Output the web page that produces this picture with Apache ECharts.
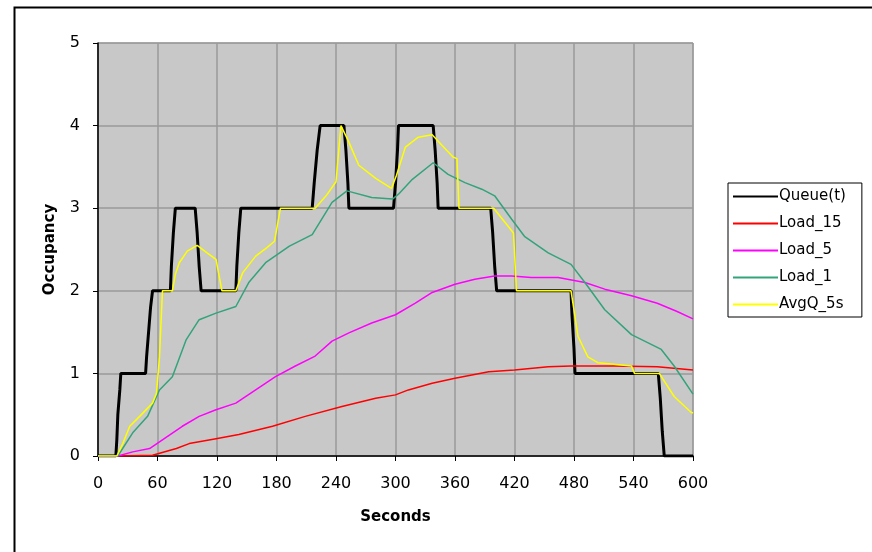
<!DOCTYPE html>
<html>
<head>
<meta charset="utf-8">
<script src="https://cdn.jsdelivr.net/npm/echarts@6/dist/echarts.min.js"></script>
<style>
html,body{margin:0;padding:0;background:#fff;}
#c{width:872px;height:552px;}
</style>
</head>
<body>
<div id="c"></div>
<script>
var seriesNames = ['Queue(t)', 'Load_15', 'Load_5', 'Load_1', 'AvgQ_5s'];
var xTicks = [0, 60, 120, 180, 240, 300, 360, 420, 480, 540, 600];
var yTicks = [0, 1, 2, 3, 4, 5];

var queueT = [0,18,19,20,22,23,48,49,51,53,55,73,74,76,78,98,100,102,104,139,140,142,144,216,218,221,224,248,250,252,253,298,300,302,303,338,340,342,343,396,398,400,402,477,478,480,481,565,567,569,571,600];
var queueV = [0,0,0.2,0.5,0.8,1,1,1.2,1.5,1.8,2,2,2.3,2.7,3,3,2.7,2.3,2,2,2.3,2.7,3,3,3.3,3.7,4,4,3.7,3.3,3,3,3.3,3.7,4,4,3.7,3.3,3,3,2.7,2.3,2,2,1.7,1.3,1,1,0.7,0.3,0,0];

var avgT = [0,19,25,32,42,55,59,62,65,75,78,82,90,100,110,119,125,139,146,159,170,178,184,219,230,240,245,247,253,263,280,296,301,310,323,337,347,358,362,364,399,419,422,477,484,494,504,538,541,566,581,598,600];
var avgV = [0,0,0.15,0.36,0.48,0.64,0.76,1.2,2.0,2.0,2.2,2.34,2.48,2.55,2.46,2.38,2.0,2.0,2.22,2.42,2.52,2.6,3.0,3.0,3.15,3.32,4.0,4.0,3.8,3.52,3.36,3.24,3.4,3.74,3.86,3.89,3.76,3.62,3.6,3.0,3.0,2.7,2.0,2.0,1.45,1.2,1.13,1.09,1.0,1.0,0.72,0.53,0.52];

var load1T = [0,20,35,50,62,75,89,102,119,139,152,169,193,216,236,251,276,297,303,317,338,353,370,387,400,417,430,454,477,491,511,538,568,581,600];
var load1V = [0,0,0.28,0.48,0.8,0.96,1.41,1.65,1.73,1.81,2.1,2.34,2.54,2.68,3.07,3.21,3.13,3.11,3.17,3.35,3.55,3.41,3.31,3.23,3.15,2.87,2.66,2.46,2.32,2.1,1.77,1.47,1.29,1.09,0.75];

var load5T = [0,20,35,52,62,85,102,119,139,159,179,199,219,236,253,276,300,320,337,360,380,400,417,437,464,491,511,538,564,584,600];
var load5V = [0,0,0.05,0.09,0.17,0.36,0.48,0.56,0.64,0.8,0.96,1.09,1.21,1.39,1.49,1.61,1.71,1.85,1.98,2.08,2.14,2.18,2.18,2.16,2.16,2.1,2.02,1.94,1.85,1.75,1.66];

var load15T = [0,20,55,79,92,119,142,176,209,246,280,300,313,337,360,394,420,454,477,521,564,600];
var load15V = [0,0,0.01,0.09,0.15,0.21,0.26,0.36,0.48,0.6,0.7,0.74,0.8,0.88,0.94,1.02,1.04,1.08,1.09,1.09,1.08,1.04];

function zip(t, v) { return t.map(function (x, i) { return [x, v[i]]; }); }

var colors = ['#000000', '#ff0000', '#ff00ff', '#33a37a', '#ffff00'];
var widths = [3, 1.5, 1.5, 1.5, 1.5];
var dataSets = [zip(queueT, queueV), zip(load15T, load15V), zip(load5T, load5V), zip(load1T, load1V), zip(avgT, avgV)];

var chart = echarts.init(document.getElementById('c'), null, {renderer: 'canvas'});
var font = 'DejaVu Sans';
chart.setOption({
  animation: false,
  backgroundColor: '#ffffff',
  textStyle: {fontFamily: font},
  graphic: [{
    type: 'rect', left: 12, top: 5, z: -10,
    shape: {x: 0, y: 0, width: 870, height: 546},
    style: {fill: 'none', stroke: '#000', lineWidth: 2}
  }],
  grid: {
    left: 98, top: 43, width: 595, height: 413,
    show: true, backgroundColor: '#c8c8c8', borderColor: '#9a9a9a', borderWidth: 1
  },
  legend: {
    orient: 'vertical', left: 728, top: 183,
    data: seriesNames,
    itemWidth: 45, itemHeight: 14, itemGap: 12,
    padding: [6, 16, 5, 4],
    borderColor: '#000', borderWidth: 1, backgroundColor: '#fff',
    itemStyle: {opacity: 0},
    textStyle: {fontFamily: font, fontSize: 15, color: '#000', padding: [0, 0, 0, -4]}
  },
  xAxis: {
    type: 'value', min: 0, max: 600, interval: 60,
    name: 'Seconds', nameLocation: 'middle', nameGap: 54,
    nameTextStyle: {fontFamily: font, fontSize: 15, fontWeight: 'bold', color: '#000'},
    axisLine: {show: true, lineStyle: {color: '#000', width: 1.5}},
    axisTick: {show: true, length: 5, lineStyle: {color: '#000'}},
    axisLabel: {fontFamily: font, fontSize: 16, color: '#000', margin: 20,
      formatter: function (v) { return xTicks.indexOf(v) >= 0 ? String(v) : ''; }},
    splitLine: {show: true, lineStyle: {color: '#9a9a9a', width: 1.5}}
  },
  yAxis: {
    type: 'value', min: 0, max: 5, interval: 1,
    name: 'Occupancy', nameLocation: 'middle', nameGap: 40,
    nameTextStyle: {fontFamily: font, fontSize: 15, fontWeight: 'bold', color: '#000'},
    axisLine: {show: true, lineStyle: {color: '#000', width: 1.5}},
    axisTick: {show: true, length: 5, lineStyle: {color: '#000'}},
    axisLabel: {fontFamily: font, fontSize: 16, color: '#000', margin: 18,
      formatter: function (v) { return yTicks.indexOf(v) >= 0 ? String(v) : ''; }},
    splitLine: {show: true, lineStyle: {color: '#9a9a9a', width: 1.5}}
  },
  series: seriesNames.map(function (n, i) {
    return {
      name: n, type: 'line', data: dataSets[i],
      showSymbol: false, symbol: 'none', smooth: false,
      color: colors[i],
      lineStyle: {color: colors[i], width: widths[i]},
      z: 2 + i
    };
  })
});
</script>
</body>
</html>
